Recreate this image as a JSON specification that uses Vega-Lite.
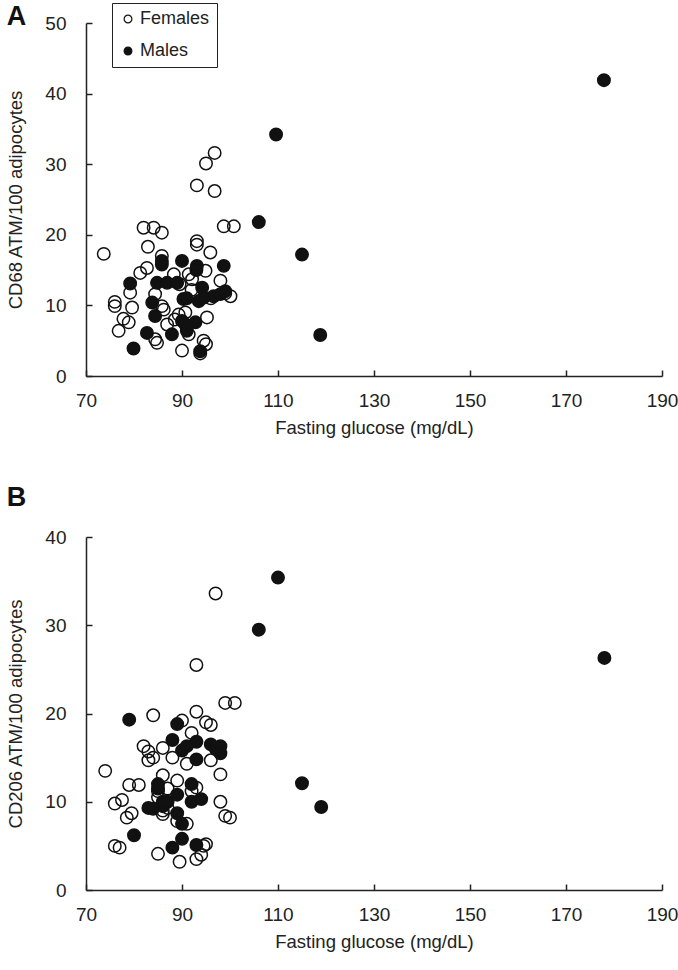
{
  "$schema": "https://vega.github.io/schema/vega-lite/v6.json",
  "padding": {"left": 6, "top": 2, "right": 5, "bottom": 5},
  "background": "white",
  "config": {
    "font": "Liberation Sans",
    "view": {"stroke": null},
    "concat": {"spacing": 47},
    "axis": {
      "grid": false,
      "domainColor": "#222",
      "domainWidth": 1.5,
      "tickColor": "#222",
      "tickWidth": 1.5,
      "tickSize": -6,
      "labelFontSize": 19,
      "labelFlush": false,
      "labelColor": "#222",
      "titleFontSize": 18.5,
      "titleFontWeight": "normal",
      "titleColor": "#222"
    },
    "title": {"fontSize": 27, "fontWeight": "bold", "anchor": "start", "frame": "bounds", "color": "#111"}
  },
  "datasets": {
    "cd68": [
      {"glucose": 73.7, "value": 17.3, "sex": "Females"},
      {"glucose": 76.0, "value": 10.5, "sex": "Females"},
      {"glucose": 76.0, "value": 9.9, "sex": "Females"},
      {"glucose": 76.8, "value": 6.4, "sex": "Females"},
      {"glucose": 77.8, "value": 8.1, "sex": "Females"},
      {"glucose": 78.9, "value": 7.6, "sex": "Females"},
      {"glucose": 79.2, "value": 11.8, "sex": "Females"},
      {"glucose": 79.6, "value": 9.7, "sex": "Females"},
      {"glucose": 81.3, "value": 14.6, "sex": "Females"},
      {"glucose": 82.0, "value": 21.0, "sex": "Females"},
      {"glucose": 82.7, "value": 15.3, "sex": "Females"},
      {"glucose": 82.9, "value": 18.3, "sex": "Females"},
      {"glucose": 84.1, "value": 21.0, "sex": "Females"},
      {"glucose": 84.4, "value": 11.6, "sex": "Females"},
      {"glucose": 84.4, "value": 5.2, "sex": "Females"},
      {"glucose": 84.8, "value": 4.7, "sex": "Females"},
      {"glucose": 85.8, "value": 20.3, "sex": "Females"},
      {"glucose": 85.8, "value": 17.0, "sex": "Females"},
      {"glucose": 85.8, "value": 9.9, "sex": "Females"},
      {"glucose": 86.2, "value": 9.4, "sex": "Females"},
      {"glucose": 86.9, "value": 7.3, "sex": "Females"},
      {"glucose": 88.3, "value": 14.4, "sex": "Females"},
      {"glucose": 88.5, "value": 8.0, "sex": "Females"},
      {"glucose": 89.3, "value": 8.7, "sex": "Females"},
      {"glucose": 89.5, "value": 13.0, "sex": "Females"},
      {"glucose": 90.0, "value": 3.6, "sex": "Females"},
      {"glucose": 90.7, "value": 9.0, "sex": "Females"},
      {"glucose": 91.4, "value": 14.4, "sex": "Females"},
      {"glucose": 91.4, "value": 5.9, "sex": "Females"},
      {"glucose": 92.1, "value": 13.7, "sex": "Females"},
      {"glucose": 92.0, "value": 12.2, "sex": "Females"},
      {"glucose": 93.1, "value": 27.0, "sex": "Females"},
      {"glucose": 93.1, "value": 19.1, "sex": "Females"},
      {"glucose": 93.1, "value": 18.6, "sex": "Females"},
      {"glucose": 93.8, "value": 3.2, "sex": "Females"},
      {"glucose": 94.5, "value": 5.0, "sex": "Females"},
      {"glucose": 94.9, "value": 14.9, "sex": "Females"},
      {"glucose": 95.0, "value": 30.1, "sex": "Females"},
      {"glucose": 95.2, "value": 8.3, "sex": "Females"},
      {"glucose": 95.0, "value": 4.5, "sex": "Females"},
      {"glucose": 95.9, "value": 17.5, "sex": "Females"},
      {"glucose": 96.0, "value": 11.0, "sex": "Females"},
      {"glucose": 96.8, "value": 31.6, "sex": "Females"},
      {"glucose": 96.8, "value": 26.2, "sex": "Females"},
      {"glucose": 98.0, "value": 13.5, "sex": "Females"},
      {"glucose": 98.7, "value": 21.2, "sex": "Females"},
      {"glucose": 99.0, "value": 11.7, "sex": "Females"},
      {"glucose": 100.1, "value": 11.3, "sex": "Females"},
      {"glucose": 100.8, "value": 21.2, "sex": "Females"},
      {"glucose": 79.2, "value": 13.1, "sex": "Males"},
      {"glucose": 79.9, "value": 3.9, "sex": "Males"},
      {"glucose": 82.7, "value": 6.1, "sex": "Males"},
      {"glucose": 83.8, "value": 10.4, "sex": "Males"},
      {"glucose": 84.4, "value": 8.5, "sex": "Males"},
      {"glucose": 84.8, "value": 13.2, "sex": "Males"},
      {"glucose": 85.8, "value": 16.3, "sex": "Males"},
      {"glucose": 85.8, "value": 15.8, "sex": "Males"},
      {"glucose": 86.9, "value": 13.2, "sex": "Males"},
      {"glucose": 87.9, "value": 5.9, "sex": "Males"},
      {"glucose": 89.0, "value": 13.2, "sex": "Males"},
      {"glucose": 90.0, "value": 16.3, "sex": "Males"},
      {"glucose": 90.3, "value": 10.9, "sex": "Males"},
      {"glucose": 90.0, "value": 7.8, "sex": "Males"},
      {"glucose": 90.7, "value": 7.3, "sex": "Males"},
      {"glucose": 91.0, "value": 6.4, "sex": "Males"},
      {"glucose": 91.0, "value": 11.0, "sex": "Males"},
      {"glucose": 92.8, "value": 7.6, "sex": "Males"},
      {"glucose": 93.1, "value": 15.6, "sex": "Males"},
      {"glucose": 93.5, "value": 10.6, "sex": "Males"},
      {"glucose": 93.0, "value": 15.0, "sex": "Males"},
      {"glucose": 93.8, "value": 3.5, "sex": "Males"},
      {"glucose": 94.2, "value": 12.5, "sex": "Males"},
      {"glucose": 94.5, "value": 11.1, "sex": "Males"},
      {"glucose": 96.6, "value": 11.3, "sex": "Males"},
      {"glucose": 98.0, "value": 11.6, "sex": "Males"},
      {"glucose": 98.7, "value": 15.6, "sex": "Males"},
      {"glucose": 99.0, "value": 12.0, "sex": "Males"},
      {"glucose": 106.0, "value": 21.8, "sex": "Males"},
      {"glucose": 109.6, "value": 34.2, "sex": "Males"},
      {"glucose": 115.0, "value": 17.2, "sex": "Males"},
      {"glucose": 118.8, "value": 5.8, "sex": "Males"},
      {"glucose": 177.9, "value": 41.9, "sex": "Males"}
    ],
    "cd206": [
      {"glucose": 74.0, "value": 13.5, "sex": "Females"},
      {"glucose": 76.0, "value": 9.8, "sex": "Females"},
      {"glucose": 76.0, "value": 5.0, "sex": "Females"},
      {"glucose": 77.0, "value": 4.8, "sex": "Females"},
      {"glucose": 77.5, "value": 10.2, "sex": "Females"},
      {"glucose": 78.5, "value": 8.2, "sex": "Females"},
      {"glucose": 79.0, "value": 11.9, "sex": "Females"},
      {"glucose": 79.5, "value": 8.7, "sex": "Females"},
      {"glucose": 81.0, "value": 11.9, "sex": "Females"},
      {"glucose": 82.0, "value": 16.3, "sex": "Females"},
      {"glucose": 83.0, "value": 15.7, "sex": "Females"},
      {"glucose": 83.0, "value": 14.7, "sex": "Females"},
      {"glucose": 84.0, "value": 19.8, "sex": "Females"},
      {"glucose": 84.0, "value": 15.0, "sex": "Females"},
      {"glucose": 85.0, "value": 4.1, "sex": "Females"},
      {"glucose": 85.0, "value": 10.5, "sex": "Females"},
      {"glucose": 85.0, "value": 11.2, "sex": "Females"},
      {"glucose": 86.0, "value": 16.1, "sex": "Females"},
      {"glucose": 86.0, "value": 13.0, "sex": "Females"},
      {"glucose": 86.0, "value": 8.6, "sex": "Females"},
      {"glucose": 86.0, "value": 9.0, "sex": "Females"},
      {"glucose": 87.0, "value": 11.5, "sex": "Females"},
      {"glucose": 87.0, "value": 9.3, "sex": "Females"},
      {"glucose": 88.0, "value": 15.0, "sex": "Females"},
      {"glucose": 89.0, "value": 12.4, "sex": "Females"},
      {"glucose": 89.0, "value": 7.8, "sex": "Females"},
      {"glucose": 89.5, "value": 3.2, "sex": "Females"},
      {"glucose": 90.0, "value": 19.2, "sex": "Females"},
      {"glucose": 91.0, "value": 14.3, "sex": "Females"},
      {"glucose": 91.0, "value": 7.5, "sex": "Females"},
      {"glucose": 92.0, "value": 11.2, "sex": "Females"},
      {"glucose": 92.0, "value": 17.8, "sex": "Females"},
      {"glucose": 93.0, "value": 25.5, "sex": "Females"},
      {"glucose": 93.0, "value": 20.2, "sex": "Females"},
      {"glucose": 93.0, "value": 11.6, "sex": "Females"},
      {"glucose": 93.0, "value": 3.5, "sex": "Females"},
      {"glucose": 94.0, "value": 4.0, "sex": "Females"},
      {"glucose": 94.5, "value": 5.0, "sex": "Females"},
      {"glucose": 95.0, "value": 19.0, "sex": "Females"},
      {"glucose": 95.0, "value": 5.2, "sex": "Females"},
      {"glucose": 96.0, "value": 14.7, "sex": "Females"},
      {"glucose": 96.0, "value": 18.7, "sex": "Females"},
      {"glucose": 97.0, "value": 33.6, "sex": "Females"},
      {"glucose": 98.0, "value": 13.1, "sex": "Females"},
      {"glucose": 98.0, "value": 10.0, "sex": "Females"},
      {"glucose": 99.0, "value": 21.2, "sex": "Females"},
      {"glucose": 99.0, "value": 8.4, "sex": "Females"},
      {"glucose": 100.0, "value": 8.2, "sex": "Females"},
      {"glucose": 101.0, "value": 21.2, "sex": "Females"},
      {"glucose": 79.0, "value": 19.3, "sex": "Males"},
      {"glucose": 80.0, "value": 6.2, "sex": "Males"},
      {"glucose": 83.0, "value": 9.3, "sex": "Males"},
      {"glucose": 84.0, "value": 9.2, "sex": "Males"},
      {"glucose": 85.0, "value": 11.5, "sex": "Males"},
      {"glucose": 85.0, "value": 12.0, "sex": "Males"},
      {"glucose": 86.0, "value": 9.5, "sex": "Males"},
      {"glucose": 86.0, "value": 10.0, "sex": "Males"},
      {"glucose": 87.0, "value": 10.0, "sex": "Males"},
      {"glucose": 88.0, "value": 4.8, "sex": "Males"},
      {"glucose": 88.0, "value": 17.0, "sex": "Males"},
      {"glucose": 89.0, "value": 18.8, "sex": "Males"},
      {"glucose": 89.0, "value": 8.7, "sex": "Males"},
      {"glucose": 89.0, "value": 10.8, "sex": "Males"},
      {"glucose": 90.0, "value": 5.8, "sex": "Males"},
      {"glucose": 90.0, "value": 15.8, "sex": "Males"},
      {"glucose": 90.0, "value": 7.5, "sex": "Males"},
      {"glucose": 91.0, "value": 16.3, "sex": "Males"},
      {"glucose": 92.0, "value": 12.0, "sex": "Males"},
      {"glucose": 92.0, "value": 10.0, "sex": "Males"},
      {"glucose": 93.0, "value": 16.8, "sex": "Males"},
      {"glucose": 93.0, "value": 5.1, "sex": "Males"},
      {"glucose": 93.0, "value": 14.8, "sex": "Males"},
      {"glucose": 94.0, "value": 10.3, "sex": "Males"},
      {"glucose": 96.0, "value": 16.5, "sex": "Males"},
      {"glucose": 97.0, "value": 16.0, "sex": "Males"},
      {"glucose": 98.0, "value": 16.3, "sex": "Males"},
      {"glucose": 98.0, "value": 15.5, "sex": "Males"},
      {"glucose": 106.0, "value": 29.5, "sex": "Males"},
      {"glucose": 110.0, "value": 35.4, "sex": "Males"},
      {"glucose": 115.0, "value": 12.1, "sex": "Males"},
      {"glucose": 119.0, "value": 9.4, "sex": "Males"},
      {"glucose": 178.0, "value": 26.3, "sex": "Males"}
    ]
  },
  "resolve": {"legend": {"fill": "independent"}, "scale": {"y": "independent"}},
  "vconcat": [
    {
      "title": {"text": "A", "offset": -28},
      "width": 576,
      "height": 353,
      "data": {"name": "cd68"},
      "mark": {"type": "point", "filled": true, "size": 155, "stroke": "#111", "strokeWidth": 1.5, "opacity": 1},
      "encoding": {
        "x": {"field": "glucose", "type": "quantitative", "scale": {"domain": [70, 190], "nice": false, "zero": false},
              "axis": {"values": [70, 90, 110, 130, 150, 170, 190], "title": "Fasting glucose (mg/dL)", "labelPadding": 21, "titlePadding": 8}},
        "y": {"field": "value", "type": "quantitative", "scale": {"domain": [0, 50], "nice": false},
              "axis": {"values": [0, 10, 20, 30, 40, 50], "title": "CD68 ATM/100 adipocytes", "labelPadding": 26, "titlePadding": 19}},
        "fill": {"field": "sex", "type": "nominal", "scale": {"domain": ["Females", "Males"], "range": ["transparent", "#111"]},
                 "legend": {"title": null, "orient": "none", "legendX": 26, "legendY": -20, "strokeColor": "#222", "padding": 7,
                            "labelFontSize": 18, "labelColor": "#222", "symbolSize": 60, "symbolStrokeColor": "#111", "symbolStrokeWidth": 1.2,
                            "rowPadding": 14, "labelOffset": 3, "fillColor": "white"}}
      }
    },
    {
      "title": {"text": "B", "offset": 16},
      "width": 576,
      "height": 353,
      "data": {"name": "cd206"},
      "mark": {"type": "point", "filled": true, "size": 155, "stroke": "#111", "strokeWidth": 1.5, "opacity": 1},
      "encoding": {
        "x": {"field": "glucose", "type": "quantitative", "scale": {"domain": [70, 190], "nice": false, "zero": false},
              "axis": {"values": [70, 90, 110, 130, 150, 170, 190], "title": "Fasting glucose (mg/dL)", "labelPadding": 21, "titlePadding": 8}},
        "y": {"field": "value", "type": "quantitative", "scale": {"domain": [0, 40], "nice": false},
              "axis": {"values": [0, 10, 20, 30, 40], "title": "CD206 ATM/100 adipocytes", "labelPadding": 26, "titlePadding": 19}},
        "fill": {"field": "sex", "type": "nominal", "scale": {"domain": ["Females", "Males"], "range": ["transparent", "#111"]}, "legend": null}
      }
    }
  ]
}
